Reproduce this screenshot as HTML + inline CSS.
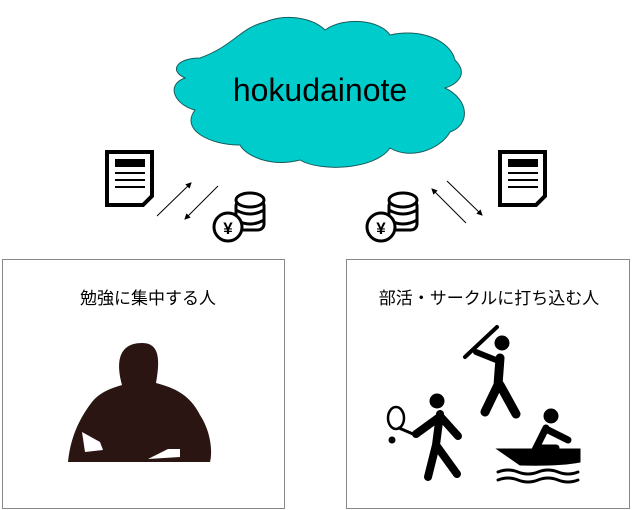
<!DOCTYPE html><html><head><meta charset="utf-8"><style>body{margin:0;background:#fff}svg{display:block}</style></head><body>
<svg width="632" height="510" viewBox="0 0 632 510" xmlns="http://www.w3.org/2000/svg">
<defs><marker id="a" markerWidth="6" markerHeight="6" refX="5" refY="3" orient="auto"><path d="M0,0 L6,3 L0,6 z" fill="#000"/></marker></defs>
<path d="M200,58 C235,45 240,28 265,22 C290,12 315,20 325,30 C345,16 380,20 390,35 C420,28 450,40 455,60 C470,75 455,85 445,88 C470,100 470,125 450,132 C440,150 410,160 390,148 C375,170 320,172 300,160 C270,168 245,155 240,145 C210,145 180,130 195,110 C175,105 165,85 185,78 C168,70 178,58 200,58 Z" fill="#00cccc" stroke="#1a5c5c" stroke-width="1"/>
<text x="320" y="101" font-family="Liberation Sans, sans-serif" font-size="32" text-anchor="middle">hokudainote</text>
<g id="doc"><path d="M107,152 h45 v44 l-9,9 h-36 z" fill="#fff" stroke="#000" stroke-width="4"/><rect x="115" y="159" width="30" height="8"/><rect x="115" y="172" width="30" height="2"/><rect x="115" y="179" width="30" height="2"/><rect x="115" y="186" width="30" height="2"/></g>
<use href="#doc" x="393"/>
<g id="coin" fill="#fff" stroke="#000" stroke-width="3"><rect x="236" y="200" width="28" height="30" rx="6"/><ellipse cx="250" cy="200" rx="14" ry="7"/><path d="M236,210 q14,8 28,0 M236,220 q14,8 28,0" fill="none"/><circle cx="228" cy="227" r="14"/><text x="228" y="234" font-size="17" text-anchor="middle" stroke="none" fill="#000" font-family="Liberation Sans, sans-serif" font-weight="bold">¥</text></g>
<use href="#coin" x="153"/>
<g stroke="#000" stroke-width="1"><line x1="157" y1="216" x2="191" y2="183" marker-end="url(#a)"/><line x1="218" y1="186" x2="185" y2="219" marker-end="url(#a)"/><line x1="466" y1="223" x2="432" y2="189" marker-end="url(#a)"/><line x1="447" y1="181" x2="482" y2="215" marker-end="url(#a)"/></g>
<rect x="2.5" y="259.5" width="282" height="249" fill="none" stroke="#888"/>
<rect x="346.5" y="259.5" width="283" height="249" fill="none" stroke="#888"/>
<text x="148" y="304" font-family="Liberation Sans, Noto Sans CJK JP, sans-serif" font-size="17" text-anchor="middle">勉強に集中する人</text>
<text x="489" y="304" font-family="Liberation Sans, Noto Sans CJK JP, sans-serif" font-size="17" text-anchor="middle">部活・サークルに打ち込む人</text>
<path d="M122,385 C115,360 120,343 142,343 C160,343 160,360 156,383 C175,388 190,395 200,415 C210,430 213,450 210,462 L68,462 C70,440 78,420 92,402 C100,392 112,388 122,385 Z" fill="#2a1512"/>
<path d="M82,432 l18,10 l3,8 l-18,2 z" fill="#fff"/><path d="M148,459 l20,-10 l12,0 l0,8 z" fill="#fff"/>
<g fill="#000" stroke="#000" stroke-linecap="round">
<circle cx="502" cy="343" r="7"/><path d="M500,358 L498,385 L485,412 M500,385 L516,414" stroke-width="9" fill="none"/><path d="M496,360 L476,352" stroke-width="6"/><path d="M465,357 L497,327" stroke-width="4"/>
<circle cx="437" cy="401" r="7"/><path d="M440,414 L436,445 L428,477 M436,445 L457,474 M440,416 L458,436 M438,418 L416,434" stroke-width="8" fill="none"/>
<ellipse cx="396" cy="418" rx="8" ry="11" fill="none" stroke-width="2.5"/><path d="M399,428 L413,434" stroke-width="3"/><circle cx="392" cy="440" r="3"/>
<circle cx="551" cy="416" r="7"/><path d="M546,428 L536,448 L556,448 M548,430 L568,440" stroke-width="7" fill="none"/>
<path d="M497,449 H580 V462 Q560,466 520,465 Z" stroke-width="1"/><path d="M498,472 q10,-4 20,0 t20,0 t20,0 t20,0 M498,480 q10,-4 20,0 t20,0 t20,0 t20,0" fill="none" stroke-width="3"/>
</g>
</svg>
</body></html>
